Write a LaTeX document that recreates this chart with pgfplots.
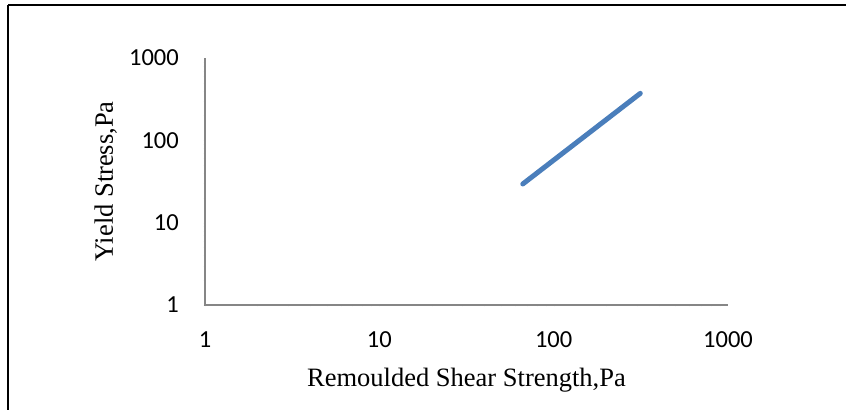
\documentclass[border=0pt]{standalone}
\usepackage{fontspec}
\setmainfont{Liberation Serif}
\newfontfamily\tickfont{Carlito}
\usepackage{pgfplots}
\pgfplotsset{compat=1.18}
\definecolor{lineblue}{HTML}{4A7EBB}
\definecolor{axisgray}{HTML}{868686}
\begin{document}
\begin{tikzpicture}[x=1pt,y=1pt]
\path[use as bounding box] (0,0) rectangle (846,410);
\draw[line width=2.5pt] (8,405) -- (846,405);
\draw[line width=1.5pt] (8,405) -- (8,0);
\begin{axis}[
  at={(205pt,105pt)}, anchor=south west,
  scale only axis, width=523pt, height=247pt,
  xmode=log, ymode=log,
  xmin=1, xmax=1000, ymin=1, ymax=1000,
  axis lines=left,
  axis line style={-, draw=axisgray, line width=1.5pt},
  xtick={1,10,100,1000}, ytick={1,10,100,1000},
  xticklabels={1,10,100,1000}, yticklabels={1,10,100,1000},
  minor tick num=0, major tick length=0pt,
  log ticks with fixed point,
  tick label style={font=\tickfont\fontsize{24.5}{24.5}\selectfont, inner sep=0pt},
  xticklabel style={anchor=base, yshift=-42pt},
  yticklabel style={anchor=east, xshift=-26pt},
  label style={font=\fontsize{26.5}{26.5}\selectfont, inner sep=0pt},
  xlabel={Remoulded Shear Strength,Pa},
  ylabel={Yield Stress,Pa},
  x label style={at={(axis description cs:0.5,-0.328)}, anchor=base},
  y label style={at={(axis description cs:-0.176,0.5)}, anchor=base, rotate=0},
  clip=false,
]
\addplot[draw=lineblue, line width=5pt, line cap=round] coordinates {
  (66.5,29.5) (314,372)
};
\end{axis}
\end{tikzpicture}
\end{document}
